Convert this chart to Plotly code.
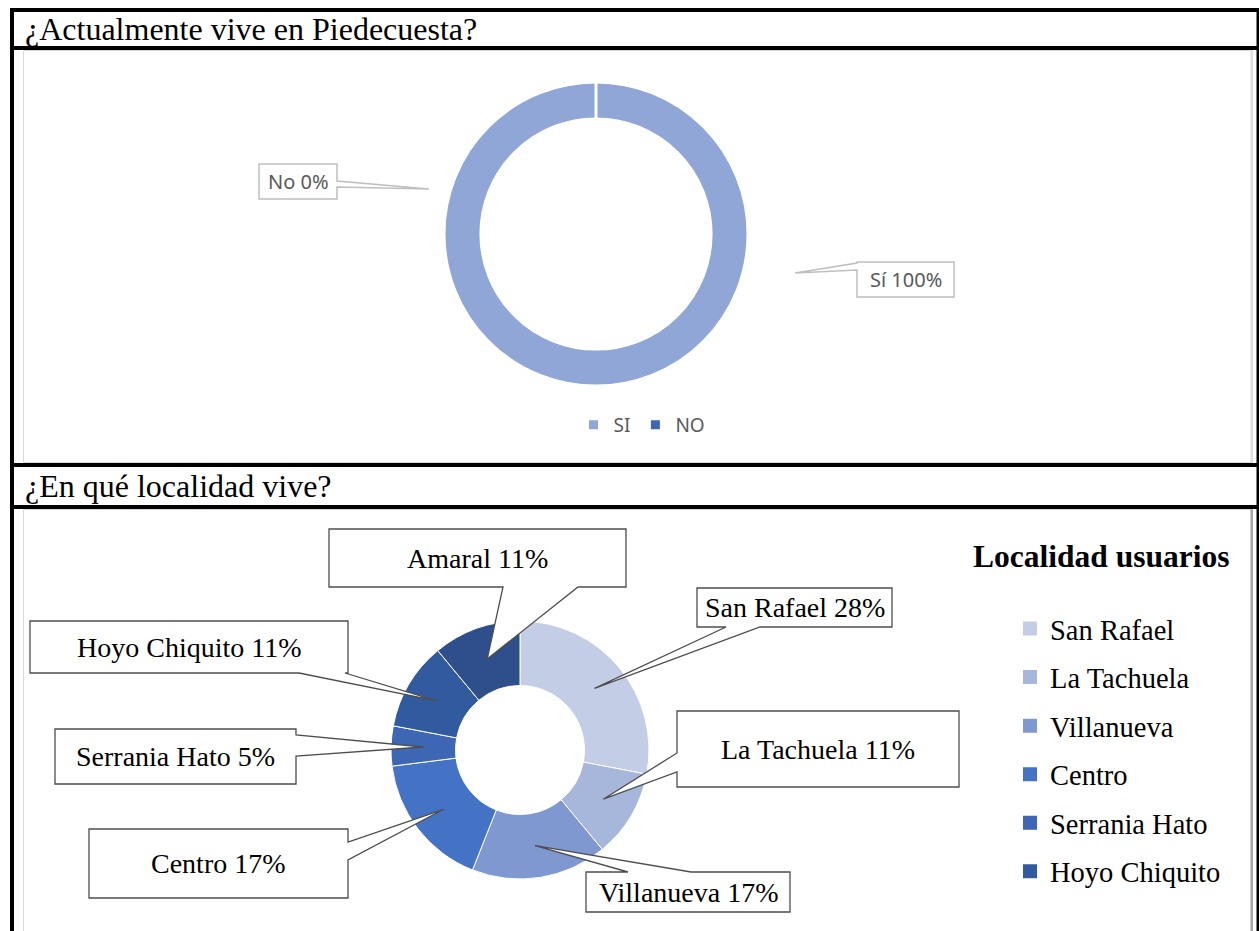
import math
import plotly.graph_objects as go

W, H = 1259, 931

# --- Pregunta 1 -----------------------------------------------------------
titulo_1 = "¿Actualmente vive en Piedecuesta?"
respuestas = ["SI", "NO"]
etiquetas_resp = ["Sí", "No"]
porcentajes_resp = [100, 0]
colores_resp = ["#8FA6D6", "#3F66B3"]

# --- Pregunta 2 -----------------------------------------------------------
titulo_2 = "¿En qué localidad vive?"
titulo_grafico_2 = "Localidad usuarios"
localidades = ["San Rafael", "La Tachuela", "Villanueva", "Centro",
               "Serrania Hato", "Hoyo Chiquito", "Amaral"]
porcentajes_loc = [28, 11, 17, 17, 5, 11, 11]
colores_loc = ["#C3CDE6", "#A7B7DC", "#7F98D0", "#4472C4",
               "#3D67B5", "#325B9F", "#2E4F8C"]
n_leyenda_loc = 6  # entries listed in the side legend

# --- geometry (pixels) ----------------------------------------------------
C1, R1, HOLE1 = (596, 234), 152, 0.757
C2, R2, HOLE2 = (520, 750), 129, 0.5

SERIF = "Liberation Serif"
SANS = "Noto Sans"


def dominio(c, r):
    cx, cy = c
    return dict(x=[(cx - r) / W, (cx + r) / W], y=[1 - (cy + r) / H, 1 - (cy - r) / H])


def callout_path(box, edge, p, q, tip):
    """Rectangle with a wedge-shaped pointer attached to one edge."""
    x0, y0, x1, y1 = box
    if edge == "top":
        a, b = sorted([p, q])
        tail = [(a, y0), tip, (b, y0)]
    elif edge == "right":
        a, b = sorted([p, q])
        tail = [(x1, a), tip, (x1, b)]
    elif edge == "bottom":
        a, b = sorted([p, q], reverse=True)
        tail = [(a, y1), tip, (b, y1)]
    else:
        a, b = sorted([p, q], reverse=True)
        tail = [(x0, a), tip, (x0, b)]
    pts = [(x0, y0)]
    if edge == "top":
        pts += tail
    pts.append((x1, y0))
    if edge == "right":
        pts += tail
    pts.append((x1, y1))
    if edge == "bottom":
        pts += tail
    pts.append((x0, y1))
    if edge == "left":
        pts += tail
    return "M " + " L ".join(f"{x:.1f},{y:.1f}" for x, y in pts) + " Z"


fig = go.Figure()

# donut 1
fig.add_trace(go.Pie(
    labels=respuestas, values=porcentajes_resp, hole=HOLE1, sort=False,
    direction="clockwise", rotation=0, textinfo="none", hoverinfo="label+percent",
    marker=dict(colors=colores_resp, line=dict(color="white", width=3)),
    domain=dominio(C1, R1), legend="legend", showlegend=True,
))

# donut 2
fig.add_trace(go.Pie(
    labels=localidades, values=porcentajes_loc, hole=HOLE2, sort=False,
    direction="clockwise", rotation=0, textinfo="none", hoverinfo="label+percent",
    marker=dict(colors=colores_loc, line=dict(color="white", width=1)),
    domain=dominio(C2, R2), showlegend=False,
))

# side legend of donut 2
for nombre, color in zip(localidades[:n_leyenda_loc], colores_loc[:n_leyenda_loc]):
    fig.add_trace(go.Scatter(
        x=[None], y=[None], mode="markers", name=nombre, legendgroup=nombre,
        marker=dict(symbol="square", size=14, color=color, line=dict(width=0)),
        legend="legend2", hoverinfo="skip",
    ))

shapes = []
BLACK = "#000000"

# table frame
def barra(x0, y0, x1, y1, color=BLACK):
    shapes.append(dict(type="rect", xref="x", yref="y", x0=x0, y0=y0, x1=x1, y1=y1,
                       fillcolor=color, line=dict(width=0), layer="below"))

# chart areas
shapes.append(dict(type="rect", xref="x", yref="y", x0=23.5, y0=50.5, x1=1251.5, y1=462.5,
                   line=dict(color="#D9D9D9", width=1), fillcolor="white", layer="below"))
barra(1250.5, 50, 1253, 463, "#DEDEDE")
shapes.append(dict(type="rect", xref="x", yref="y", x0=23.5, y0=509.5, x1=1251.5, y1=945,
                   line=dict(color="#D9D9D9", width=1), fillcolor="white", layer="below"))
barra(1250.5, 509, 1253, 931, "#A6A6A6")

barra(10, 8, 1259, 12)
barra(10, 8, 14, 931)
barra(1256.5, 8, 1259, 931)
barra(10, 46, 1259, 50)
barra(10, 463, 1259, 467)
barra(10, 505, 1259, 509)

annotations = [
    dict(x=23, y=29, text=titulo_1, xanchor="left", yanchor="middle", showarrow=False,
         font=dict(family=SERIF, size=32, color=BLACK)),
    dict(x=23, y=486, text=titulo_2, xanchor="left", yanchor="middle", showarrow=False,
         font=dict(family=SERIF, size=32, color=BLACK)),
    dict(x=1101, y=556, text=f"<b>{titulo_grafico_2}</b>", xanchor="center", yanchor="middle",
         showarrow=False, font=dict(family=SERIF, size=31.5, color=BLACK)),
]

# callouts for donut 1
callouts_1 = [
    # label index, box, edge, attach a, attach b, tip
    (1, (259, 164, 337, 199), "right", 181, 187, (429, 189)),
    (0, (857, 262, 954, 297), "left", 263, 270, (795, 273)),
]
for i, box, edge, a, b, tip in callouts_1:
    shapes.append(dict(type="path", xref="x", yref="y", path=callout_path(box, edge, a, b, tip),
                       fillcolor="white", line=dict(color="#BFBFBF", width=1.5), layer="above"))
    annotations.append(dict(
        x=(box[0] + box[2]) / 2, y=(box[1] + box[3]) / 2,
        text=f"{etiquetas_resp[i]} {porcentajes_resp[i]}%", showarrow=False,
        xanchor="center", yanchor="middle", font=dict(family=SANS, size=20, color="#595959")))

# callouts for donut 2: pointer tips sit at each slice's mid-angle, mid-ring
r_mid = R2 * (1 + HOLE2) / 2
total = sum(porcentajes_loc)
acum = 0
tips = []
for v in porcentajes_loc:
    ang = math.radians((acum + v / 2) / total * 360)
    tips.append((C2[0] + r_mid * math.sin(ang), C2[1] - r_mid * math.cos(ang)))
    acum += v

cajas_2 = [
    ((697, 588, 892, 627), "bottom", 726, 760),
    ((677, 711, 959, 787), "left", 753, 772),
    ((586, 872, 790, 912), "top", 628, 691),
    ((89, 829, 348, 898), "right", 842, 860),
    ((55, 729, 296, 784), "right", 735, 756),
    ((30, 621, 348, 673), "bottom", 299, 345),
    ((329, 529, 626, 587), "bottom", 503, 578),
]
for nombre, v, tip, (box, edge, a, b) in zip(localidades, porcentajes_loc, tips, cajas_2):
    shapes.append(dict(type="path", xref="x", yref="y", path=callout_path(box, edge, a, b, tip),
                       fillcolor="white", line=dict(color="#4D4D4D", width=1.3), layer="above"))
    annotations.append(dict(
        x=(box[0] + box[2]) / 2, y=(box[1] + box[3]) / 2, text=f"{nombre} {v}%",
        showarrow=False, xanchor="center", yanchor="middle",
        font=dict(family=SERIF, size=28, color=BLACK)))

for an in annotations:
    an.setdefault("xref", "x")
    an.setdefault("yref", "y")

fig.update_layout(
    width=W, height=H,
    margin=dict(l=0, r=0, t=0, b=0, pad=0, autoexpand=False),
    paper_bgcolor="white", plot_bgcolor="white",
    xaxis=dict(range=[0, W], visible=False, fixedrange=True, domain=[0, 1]),
    yaxis=dict(range=[H, 0], visible=False, fixedrange=True, domain=[0, 1]),
    shapes=shapes,
    annotations=annotations,
    legend=dict(orientation="h", x=642 / W, xanchor="center", y=1 - 425 / H, yanchor="middle",
                font=dict(family=SANS, size=19, color="#595959"), bgcolor="rgba(0,0,0,0)",
                itemclick=False, itemdoubleclick=False),
    legend2=dict(orientation="v", x=1010 / W, xanchor="left", y=1 - 603.5 / H, yanchor="top",
                 traceorder="grouped", tracegroupgap=8.5,
                 font=dict(family=SERIF, size=28.5, color=BLACK), bgcolor="rgba(0,0,0,0)",
                 itemclick=False, itemdoubleclick=False),
    showlegend=True,
)

fig.write_html("out.html")
